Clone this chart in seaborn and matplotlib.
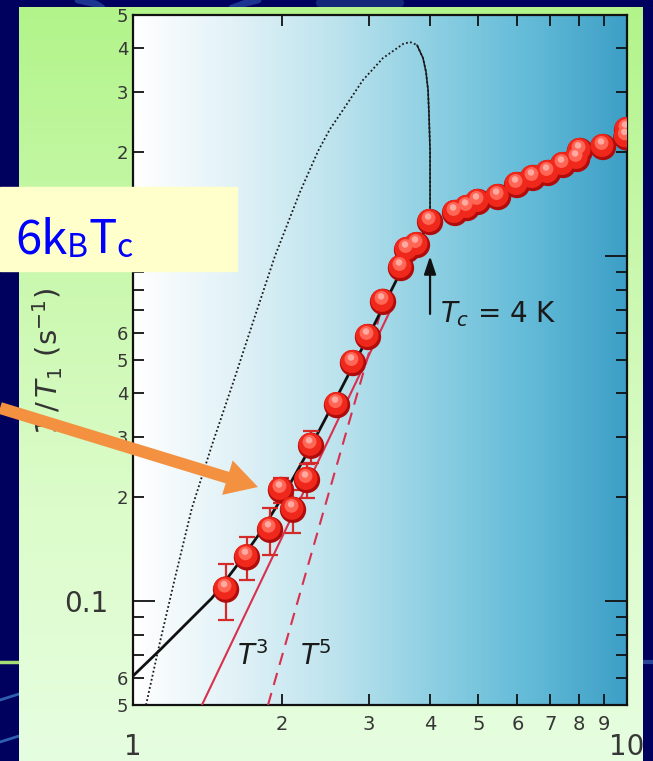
import matplotlib
matplotlib.use("Agg")
import numpy as np
import matplotlib.pyplot as plt
import seaborn as sns
from matplotlib.colors import LinearSegmentedColormap
from matplotlib.patches import Rectangle, FancyArrow
from matplotlib.ticker import FixedLocator, FixedFormatter
from matplotlib.transforms import offset_copy

# ---- measured nuclear spin-lattice relaxation rate 1/T1 ----
temp_K = [1.543, 1.701, 1.894, 1.993, 2.108, 2.250, 2.293, 2.588, 2.788, 2.990,
          3.207, 3.487, 3.587, 3.757, 3.993, 4.486, 4.745, 4.993, 5.483, 5.989,
          6.451, 6.920, 7.420, 7.923, 8.034, 8.942, 9.97, 10.0]
rate_inv_s = [0.108, 0.134, 0.161, 0.210, 0.184, 0.2245, 0.282, 0.370, 0.490, 0.583,
              0.737, 0.924, 1.042, 1.077, 1.256, 1.334, 1.379, 1.436, 1.484, 1.608,
              1.685, 1.742, 1.837, 1.913, 2.018, 2.072, 2.21, 2.32]
# error bars of the lowest-temperature points (same order as above)
rate_err = [0.020, 0.019, 0.025, 0.018, 0.026, 0.025, 0.030]

# fit through the superconducting state
fit_temp_K = [1.0, 1.134, 1.274, 1.445, 1.609, 1.807, 2.030, 2.282, 2.624, 3.018,
              3.471, 3.993]
fit_rate = [0.0607, 0.0722, 0.0853, 0.1021, 0.1247, 0.1576, 0.2058, 0.2779, 0.4065, 0.5984,
            0.894, 1.256]

# conventional s-wave (BCS) expectation with coherence peak
bcs_temp_K = [1.0625, 1.134, 1.216, 1.316, 1.445, 1.594, 1.758, 1.938, 2.178, 2.370,
              2.505, 2.661, 2.921, 3.207, 3.521, 3.637, 3.757, 3.864, 3.919, 3.956,
              3.974, 3.993, 3.993]
bcs_rate = [0.050, 0.0761, 0.1167, 0.1862, 0.2835, 0.429, 0.6574, 1.0006, 1.535, 2.018,
            2.336, 2.652, 3.239, 3.752, 4.120, 4.175, 4.093, 3.752, 3.417, 3.030,
            2.565, 2.031, 1.256]

# power-law guides
t3_temp_K = [1.379, 3.39]
t3_rate = [0.05, 0.743]
t5_temp_K = [1.876, 3.24]
t5_rate = [0.05, 0.765]

x_major = [1, 10]
x_major_labels = ["1", "10"]
x_minor = [2, 3, 4, 5, 6, 7, 8, 9]
x_minor_labels = ["2", "3", "4", "5", "6", "7", "8", "9"]
y_major = [0.1, 1]
y_major_labels = ["0.1", ""]
y_minor = [0.05, 0.06, 0.07, 0.08, 0.09, 0.2, 0.3, 0.4, 0.5, 0.6, 0.7, 0.8, 0.9,
           2, 3, 4, 5]
y_minor_labels = ["5", "6", "", "", "", "2", "3", "4", "5", "6", "", "", "",
                  "2", "3", "4", "5"]

W, H = 653, 761
sns.set_theme(style="ticks")
plt.rcParams["font.family"] = ["DejaVu Sans"]
plt.rcParams["mathtext.fontset"] = "dejavusans"

fig = plt.figure(figsize=(W / 100, H / 100), dpi=100, facecolor="#00005e")

# ---- slide background (pixel coordinates) ----
bg = fig.add_axes([0, 0, 1, 1], zorder=-2)
bg.set_xlim(0, W)
bg.set_ylim(H, 0)
bg.axis("off")
bg.add_patch(Rectangle((0, 0), W, H, color="#00005e", zorder=0))
# decorative strokes of the slide template
bg.plot([78, 96, 102], [0, 4, 8], color="#1b3590", lw=5, zorder=1)
bg.plot([232, 246, 258], [8, 3, 0], color="#1b3590", lw=5, zorder=1)
bg.plot([320, 400], [3, 3], color="#14287a", lw=6, zorder=1)
bg.plot([0, 19], [662, 662], color="#a6dd74", lw=2.5, zorder=1)
bg.plot([0, 19], [700, 694], color="#2f5fb0", lw=2, zorder=1)
bg.plot([0, 19], [742, 736], color="#2f5fb0", lw=2, zorder=1)
bg.plot([643, W], [662, 662], color="#28459a", lw=3, zorder=1)
# green panel with vertical gradient
green = LinearSegmentedColormap.from_list("panel", ["#b2f48a", "#c9f8ad", "#dcfcca", "#e6fee0"])
bg.imshow(np.linspace(0, 1, 256).reshape(-1, 1), cmap=green, aspect="auto",
          extent=[19, 643, H, 7], origin="upper", zorder=2)
# plot-area horizontal gradient
plotbg = LinearSegmentedColormap.from_list(
    "plotbg", ["#ffffff", "#e2f2f7", "#bfe4ee", "#8fd0e3", "#63bbd8", "#3d9fc6"])
bg.imshow(np.linspace(0, 1, 256).reshape(1, -1), cmap=plotbg, aspect="auto",
          extent=[133, 627, 705, 15], origin="upper", zorder=3)

# ---- main log-log axes ----
ax = fig.add_axes([133 / W, 1 - 705 / H, (627 - 133) / W, (705 - 15) / H], zorder=1)
ax.set_facecolor("none")
ax.set_xscale("log")
ax.set_yscale("log")

# BCS curve: dotted on the rising side, thin solid on the drop at Tc
peak = int(np.argmax(bcs_rate)) + 1
sns.lineplot(x=bcs_temp_K, y=bcs_rate, sort=False, estimator=None, ax=ax,
             color="#1a1a1a", lw=1.3, linestyle=(0, (1, 1.3)), zorder=3)
sns.lineplot(x=bcs_temp_K[peak:], y=bcs_rate[peak:], sort=False, estimator=None, ax=ax,
             color="#1a1a1a", lw=1.1, zorder=3)

# power-law guides
sns.lineplot(x=t3_temp_K, y=t3_rate, ax=ax, color="#d8304e", lw=1.5, zorder=3)
sns.lineplot(x=t5_temp_K, y=t5_rate, ax=ax, color="#d8304e", lw=1.5,
             linestyle=(0, (6, 4)), zorder=3)

# fit
sns.lineplot(x=fit_temp_K, y=fit_rate, sort=False, estimator=None, ax=ax,
             color="#111111", lw=2.0, zorder=4)

# error bars
n_err = len(rate_err)
ax.errorbar(temp_K[:n_err], rate_inv_s[:n_err], yerr=rate_err, fmt="none",
            ecolor="#d42a2a", elinewidth=1.6, capsize=6, capthick=1.6, zorder=5)

# shaded spheres: dark rim, red body, glossy highlight
sns.scatterplot(x=temp_K, y=rate_inv_s, s=360, color="#b00c0c", edgecolor="none",
                linewidth=0, ax=ax, zorder=6, legend=False)
sns.scatterplot(x=temp_K, y=rate_inv_s, s=275, color="#f0281c", edgecolor="none",
                linewidth=0, ax=ax, zorder=7, legend=False)
ax.collections[-1].set_offset_transform(offset_copy(ax.transData, fig=fig, x=-1, y=1.5, units="dots"))
sns.scatterplot(x=temp_K, y=rate_inv_s, s=100, color="#ff6656", edgecolor="none",
                linewidth=0, ax=ax, zorder=8, legend=False)
ax.collections[-1].set_offset_transform(offset_copy(ax.transData, fig=fig, x=-1.5, y=4, units="dots"))
sns.scatterplot(x=temp_K, y=rate_inv_s, s=22, color="#ffaaa0", edgecolor="none",
                linewidth=0, ax=ax, zorder=9, legend=False)
ax.collections[-1].set_offset_transform(offset_copy(ax.transData, fig=fig, x=-2, y=5.5, units="dots"))

ax.set_xlim(1, 10)
ax.set_ylim(0.05, 5)
ax.set_xlabel("")
ax.set_ylabel("")

ax.xaxis.set_major_locator(FixedLocator(x_major))
ax.xaxis.set_major_formatter(FixedFormatter(x_major_labels))
ax.xaxis.set_minor_locator(FixedLocator(x_minor))
ax.xaxis.set_minor_formatter(FixedFormatter(x_minor_labels))
ax.yaxis.set_major_locator(FixedLocator(y_major))
ax.yaxis.set_major_formatter(FixedFormatter(y_major_labels))
ax.yaxis.set_minor_locator(FixedLocator(y_minor))
ax.yaxis.set_minor_formatter(FixedFormatter(y_minor_labels))

ax.tick_params(which="both", direction="in", top=True, right=True,
               color="#111111", labelcolor="#363636", width=1.3)
ax.tick_params(which="major", length=16)
ax.tick_params(which="minor", length=8)
ax.tick_params(axis="x", which="major", labelsize=20, pad=20)
ax.tick_params(axis="x", which="minor", labelsize=14, pad=7)
ax.tick_params(axis="y", which="major", labelsize=20, pad=18)
ax.tick_params(axis="y", which="minor", labelsize=13, pad=3.5)
for sp in ax.spines.values():
    sp.set_visible(True)
    sp.set_color("#111111")
    sp.set_linewidth(1.6)

# annotations
ax.annotate("", xy=(3.993, 1.0), xytext=(3.993, 0.68),
            arrowprops=dict(arrowstyle="-|>,head_length=0.9,head_width=0.3",
                            color="#111111", lw=1.6, shrinkA=0, shrinkB=0), zorder=10)
ax.text(4.18, 0.645, r"$T_c$ = 4 K", fontsize=20, color="#1a1a1a", va="baseline", zorder=10)
ax.text(1.624, 0.0653, r"$T^3$", fontsize=20, color="#1a1a1a", va="baseline", zorder=10)
ax.text(2.178, 0.0653, r"$T^5$", fontsize=20, color="#1a1a1a", va="baseline", zorder=10)

# ---- overlay: axis title, highlight box and pointer ----
fg = fig.add_axes([0, 0, 1, 1], zorder=5)
fg.set_xlim(0, W)
fg.set_ylim(H, 0)
fg.axis("off")
fg.set_facecolor("none")
fg.text(48, 361, r"$1\,/\,T_1\ (\mathrm{s}^{-1})$", rotation=90, fontsize=21,
        color="#333333", ha="center", va="center", zorder=1)
fg.add_patch(Rectangle((0, 187), 237, 84, color="#ffffcc", zorder=2))
t1 = fg.text(15, 253, "6k", fontsize=34, color="#0000ff", va="baseline",
             family=["Noto Sans CJK JP", "DejaVu Sans"], zorder=3)
t2 = fg.annotate("B", xy=(1, 0), xycoords=t1, va="bottom", fontsize=23,
                 color="#0000ff", family=["Noto Sans CJK JP", "DejaVu Sans"], zorder=3)
t3 = fg.annotate("T", xy=(1, 0), xycoords=t2, va="bottom", fontsize=34,
                 color="#0000ff", family=["Noto Sans CJK JP", "DejaVu Sans"], zorder=3)
fg.annotate("c", xy=(1, 0), xycoords=t3, va="bottom", fontsize=23,
            color="#0000ff", family=["Noto Sans CJK JP", "DejaVu Sans"], zorder=3)
fg.add_patch(FancyArrow(0, 408, 258, 79, width=12, head_width=36, head_length=32,
                        length_includes_head=True, color="#f39140", lw=0, zorder=4))

fig.savefig("out.png", dpi=100, facecolor=fig.get_facecolor())
